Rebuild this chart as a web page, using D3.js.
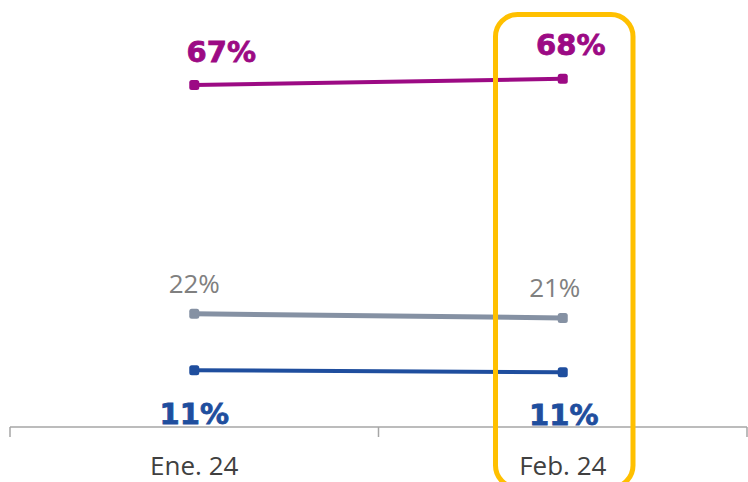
<!DOCTYPE html>
<html><head><meta charset="utf-8">
<script src="https://cdn.jsdelivr.net/npm/d3@7"></script>
<style>html,body{margin:0;padding:0;background:#fff;}</style>
</head><body>
<svg id="c" width="748" height="482"></svg>
<script>
const categories = ["Ene. 24", "Feb. 24"];
const seriesNames = ["purple", "gray", "blue"];
const purpleValues = [66.8, 68.0];
const grayValues = [22.1, 21.3];
const blueValues = [11.1, 10.7];
const purpleLabels = ["67%", "68%"];
const grayLabels = ["22%", "21%"];
const blueLabels = ["11%", "11%"];
const highlighted = "Feb. 24";

const svg = d3.select("#c");
const x = d3.scaleBand().domain(categories).range([10, 747]);
const y = d3.scaleLinear().domain([0, 80]).range([427, 17.4]);
const cx = c => x(c) + x.bandwidth() / 2;

// axis
const g = svg.append("g").attr("transform", "translate(0,427)");
g.append("line").attr("x1", 10).attr("x2", 747).attr("stroke", "#a6a6a6").attr("stroke-width", 1.5);
const tickPos = [10, ...categories.map(c => x(c) + x.bandwidth())];
g.selectAll("line.t").data(tickPos).enter().append("line").attr("class", "t")
  .attr("x1", d => d).attr("x2", d => d).attr("y1", 0).attr("y2", 10)
  .attr("stroke", "#a6a6a6").attr("stroke-width", 1.5);
g.selectAll("text.cat").data(categories).enter().append("text").attr("class", "cat")
  .attr("x", d => cx(d)).attr("y", 48).attr("text-anchor", "middle")
  .attr("font-family", "Open Sans").attr("font-size", 26).attr("fill", "#404040").text(d => d);

const series = [
  {vals: purpleValues, labels: purpleLabels, color: "#9c0a84", width: 4, lab: {dx: [27, 8], dy: [-23, -24], font: "DejaVu Sans", weight: "bold", size: 29, color: "#9c0a84"}},
  {vals: grayValues, labels: grayLabels, color: "#8591a3", width: 5, lab: {dx: [0, -8], dy: [-21, -21], font: "Open Sans", weight: "normal", size: 26, color: "#808080"}},
  {vals: blueValues, labels: blueLabels, color: "#1f4e9e", width: 4, lab: {dx: [0, 1], dy: [54, 53], font: "DejaVu Sans", weight: "bold", size: 29, color: "#1f4e9e"}}
];

const line = d3.line().x(d => cx(d.c)).y(d => y(d.v));
series.forEach(s => {
  const pts = categories.map((c, i) => ({c, v: s.vals[i], l: s.labels[i], i}));
  svg.append("path").datum(pts).attr("d", line).attr("fill", "none")
    .attr("stroke", s.color).attr("stroke-width", s.width);
  svg.selectAll(null).data(pts).enter().append("rect")
    .attr("x", d => cx(d.c) - 5).attr("y", d => y(d.v) - 5).attr("width", 10).attr("height", 10)
    .attr("rx", 2.5).attr("fill", s.color);
  svg.selectAll(null).data(pts).enter().append("text")
    .attr("x", d => cx(d.c) + s.lab.dx[d.i]).attr("y", d => y(d.v) + s.lab.dy[d.i])
    .attr("text-anchor", "middle").attr("font-family", s.lab.font).attr("font-weight", s.lab.weight)
    .attr("font-size", s.lab.size).attr("fill", s.lab.color).attr("stroke", s.lab.color)
    .attr("stroke-width", s.lab.weight === "bold" ? 0.8 : 0).text(d => d.l);
});

// highlight box
svg.append("rect").attr("x", 495.5).attr("y", 14.5).attr("width", 137.5).attr("height", 473)
  .attr("rx", 22).attr("fill", "none").attr("stroke", "#ffc000").attr("stroke-width", 5);
</script>
</body></html>
